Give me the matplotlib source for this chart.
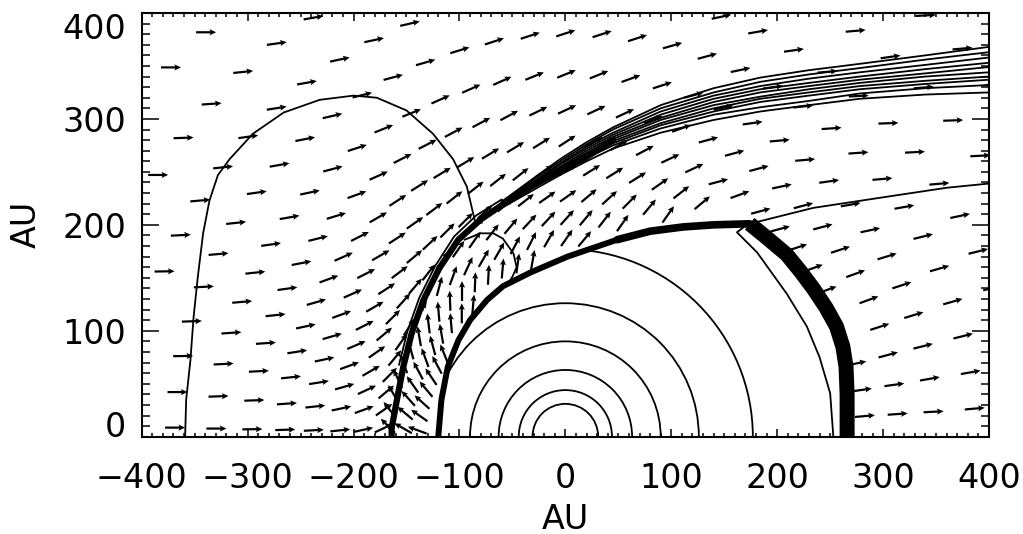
import numpy as np
import matplotlib.pyplot as plt
from matplotlib.patches import Arc, Polygon
from matplotlib.path import Path
from matplotlib.ticker import MultipleLocator

plt.rcParams['font.family'] = ['DejaVu Sans']

# circular contours of the supersonic wind (radius, AU)
circle_r = [31, 44, 63, 90, 126, 177]

# termination shock: nose, flat top and downwind flank
ts_nose_x = [-120, -117, -111, -101, -90, -74, -59, -33, 2, 49]
ts_nose_y = [0, 35, 66, 91, 110, 129, 142, 155, 170, 186]
ts_top_x = [49, 80, 111, 140, 174]
ts_top_y = [186, 194, 198, 200, 201]
ts_flank_x = [174, 190, 209, 222, 234, 246, 256, 262, 265, 266, 266]
ts_flank_y = [201, 188, 172, 156, 140, 122, 104, 85, 66, 40, 0]

# thin contour inside the flank, and the one running off to the tail
inner_x = [170, 162, 181, 209, 228, 240, 250, 253]
inner_y = [199, 193, 174, 135, 104, 75, 41, 0]
tail_x = [178, 234, 300, 360, 400]
tail_y = [202, 216, 226, 235, 239]

# heliopause and its outer companion line
hp_x = [-164, -164, -159, -153, -145, -134, -119, -101, -80, -55, -30, -5, 20, 45]
hp_y = [0, 8, 35, 66, 98, 129, 159, 186, 205, 222, 238, 251, 264, 280]
hpo_x = [-157, -149, -138, -123, -105, -84, -60]
hpo_y = [68, 100, 131, 161, 189, 209, 224]

# bundle of contours along the heliopause flank
bundle_x = [-60, -30, -5, 20, 45, 90, 140, 184, 230, 278, 340, 400]
bundle_1 = [222, 244, 262, 278, 292, 313, 329, 339, 346, 352, 360, 368]
bundle_2 = [221, 243, 260, 276, 290, 310, 325, 335, 342, 348, 356, 363]
bundle_3 = [221, 241, 258, 274, 287, 307, 322, 331, 338, 344, 351, 358]
bundle_4 = [220, 240, 257, 272, 285, 304, 319, 328, 334, 340, 347, 353]
bundle_5 = [219, 239, 255, 270, 283, 301, 316, 325, 331, 337, 343, 349]
bundle_6 = [219, 238, 254, 268, 281, 299, 313, 321, 328, 334, 340, 344]
bundle_7 = [218, 237, 252, 266, 279, 296, 310, 319, 325, 331, 336, 340]
bundle_8 = [218, 236, 251, 265, 277, 294, 307, 316, 322, 328, 333, 337]
bundle_9 = [217, 235, 249, 263, 275, 291, 304, 311, 317, 324, 329, 332]
bundle_10 = [216, 233, 247, 260, 272, 287, 299, 307, 313, 319, 323, 325]

# large contour upstream and the small lobe in the inner heliosheath
loop_x = [-359, -358, -354, -351, -347, -342, -336, -328, -317, -295, -266,
          -232, -200, -178, -150, -125, -106, -93, -85, -79]
loop_y = [0, 35, 72, 113, 151, 192, 223, 247, 262, 286, 306,
          318, 322, 320, 308, 286, 262, 236, 202, 202]
lobe_x = [-95, -80, -68, -59, -49, -46, -50, -55]
lobe_y = [186, 192, 192, 187, 173, 160, 151, 143]

# velocity arrows on the polar grid: radius (AU), polar angle (deg)
arrow_r = [131, 145, 161, 180, 200, 222, 247, 274, 305, 339, 378, 418, 465, 517]
arrow_theta = [3.9, 9.0, 14.2, 19.3, 24.4, 29.6, 34.7, 39.9, 45.0, 50.2, 55.3,
               60.4, 65.6, 70.7, 75.9, 81.0, 86.1, 91.3, 96.4, 101.6, 106.7,
               111.9, 117.0, 122.1, 127.3, 132.4, 137.6, 142.7, 147.9, 153.0,
               158.1, 163.3, 168.4, 173.6, 178.7]

# flow direction (deg) per grid point, None where no arrow is drawn
_ = None
dir_r131 = [_] * 27 + [110, 112, 118, 124, 130, 138, 145, 160]
dir_r145 = [_] * 24 + [85, 90, 95, 100, 105, 110, 118, 125, 132, 140, 150]
dir_r161 = [_] * 19 + [80, 82, 85, 87, 88, 90, 92, 95, 97, 100, 105, 110, 115,
                       120, 128, 135]
dir_r180 = [_] * 16 + [50, 55, 60, 63, 62, 60, 60, 65, 70, 75, 80, 58, 58, 55,
                       50, 45, 40, 35, 25]
dir_r200 = [_] * 14 + [55, 52, 50, 48, 47, 47, 50, 52, 55, 55, 55, 52, 50, 48,
                       45, 40, 35, 30, 25, 20, 12]
dir_r222 = [_] * 12 + [55, 50, 45, 42, 40, 35, 35, 38, 40, 42, 45, 45, 43, 40,
                       37, 33, 30, 27, 23, 20, 16, 12, 6]
dir_r247 = [_] * 11 + [40, 38, 35, 32, 32, 32, 33, 35, 38, 38, 38, 38, 37, 35,
                       33, 30, 27, 24, 20, 16, 12, 9, 6, 3]
dir_r274 = [5, 8, 12, 15, 18, 20, 20, 18, 15, 15, 20, 15, 25, 25, 28, 30, 30,
            33, 32, 31, 31, 31, 31, 32, 33, 30, 27, 24, 20, 16, 12, 9, 6, 4, 2]
dir_r305 = [4, 8, 15, 18, 20, 20, 18, 15, 15, 12, 15, 15, 15, 20, 22, 25, 25,
            25, 26, 28, 28, 28, 27, 27, 24, 20, 17, 14, 11, 8, 6, 4, 3, 2, 1]
dir_r339 = [3, 10, 14, 17, 18, 17, 12, 10, 8, 5, 5, 8, 12, 15, 18, 20, 22, 22,
            22, 24, 24, 24, 22, 22, 18, 15, 12, 10, 8, 6, 5, 4, 3, 2, 0]
dir_r378 = [5, 10, 14, 16, 16, 14, 10, 5, 4, 4, 6, 8, 12, 15, 16, 18, 18, 18,
            18, 18, 17, 16, 15, 14, 13, 11, 10, 8, 6, 5, 3, 2, 1, 0, 0]
dir_r418 = [_, _, _, 15, 14, 12, 5, 3, 2, 3, 5, 8, 10, 12, 15, _, _, _, _, _,
            13, 13, 12, 12, 10, 9, 8, 6, 5, 3, 1, _, _, _, _]
dir_r465 = [_] * 6 + [3, 2, 5, 8, 5, 8] + [_] * 11 + [10, 8, 6, 4, 2, 0] + [_] * 6
dir_r517 = [_] * 7 + [5, 5, 3] + [_] * 15 + [0, 0] + [_] * 8

arrow_dir = [dir_r131, dir_r145, dir_r161, dir_r180, dir_r200, dir_r222,
             dir_r247, dir_r274, dir_r305, dir_r339, dir_r378, dir_r418,
             dir_r465, dir_r517]

x_ticks = [-400, -300, -200, -100, 0, 100, 200, 300, 400]
y_ticks = [0, 100, 200, 300, 400]

fig = plt.figure(figsize=(10.23, 5.34), dpi=100)
ax = fig.add_axes([0.1385, 0.1822, 0.8283, 0.7935])
ax.set_xlim(-400, 400)
ax.set_ylim(0, 400)

# outline of the termination shock, used for clipping and masking
ts_outline = np.column_stack([ts_nose_x + ts_top_x[1:] + ts_flank_x[1:],
                              ts_nose_y + ts_top_y[1:] + ts_flank_y[1:]])
ts_patch = Polygon(ts_outline, closed=True, transform=ax.transData)
ts_path = Path(ts_outline)

for r in circle_r:
    arc = Arc((0, 0), 2 * r, 2 * r, theta1=0, theta2=180, lw=1.3, color='k')
    ax.add_patch(arc)
    arc.set_clip_path(ts_patch)

thin = dict(color='k', lw=1.3, solid_joinstyle='round')
ax.plot(inner_x, inner_y, **thin)
ax.plot(tail_x, tail_y, **thin)
ax.plot(loop_x, loop_y, **thin)
ax.plot(lobe_x, lobe_y, **thin)
ax.plot(hpo_x + [bundle_x[0]], hpo_y + [bundle_1[0]], **thin)
for by in [bundle_1, bundle_2, bundle_3, bundle_4, bundle_5,
           bundle_6, bundle_7, bundle_8, bundle_9, bundle_10]:
    ax.plot(bundle_x, by, **thin)

ax.plot(hp_x, hp_y, color='k', lw=4.5, solid_capstyle='round', solid_joinstyle='round')
ax.plot(ts_nose_x, ts_nose_y, color='k', lw=4.3, solid_capstyle='round', solid_joinstyle='round')
ax.plot(ts_top_x, ts_top_y, color='k', lw=5.5, solid_capstyle='round', solid_joinstyle='round')
ax.plot(ts_flank_x, ts_flank_y, color='k', lw=10.8, solid_capstyle='butt', solid_joinstyle='round')

# arrows
xs, ys, us, vs = [], [], [], []
for r, row in zip(arrow_r, arrow_dir):
    for th, d in zip(arrow_theta, row):
        if d is None:
            continue
        x = r * np.cos(np.radians(th))
        y = r * np.sin(np.radians(th))
        if abs(x) > 400 or y > 400 or ts_path.contains_point((x, y)):
            continue
        xs.append(x)
        ys.append(y)
        us.append(np.cos(np.radians(d)))
        vs.append(np.sin(np.radians(d)))
ax.quiver(xs, ys, us, vs, pivot='tail', angles='uv', scale_units='dots',
          scale=1 / 20., units='dots', width=2.2, headwidth=2.8,
          headlength=3.0, headaxislength=2.6, color='k', zorder=3)

ax.set_xticks(x_ticks)
ax.set_yticks(y_ticks)
ax.xaxis.set_minor_locator(MultipleLocator(10))
ax.yaxis.set_minor_locator(MultipleLocator(10))
ax.tick_params(which='both', direction='in', top=True, right=True, width=1.1,
               labelsize=24)
ax.tick_params(axis='x', which='major', length=6, pad=18)
ax.tick_params(axis='x', which='minor', length=3)
ax.tick_params(axis='y', which='major', length=12, pad=11)
ax.tick_params(axis='y', which='minor', length=6)
ax.yaxis.get_major_ticks()[0].label1.set_va('baseline')
ax.yaxis.get_major_ticks()[-1].label1.set_va('top')
for s in ax.spines.values():
    s.set_linewidth(1.5)

ax.set_xlabel('AU', fontsize=24, labelpad=6)
ax.set_ylabel('AU', fontsize=24, labelpad=14)

fig.savefig('out.png', dpi=100)
